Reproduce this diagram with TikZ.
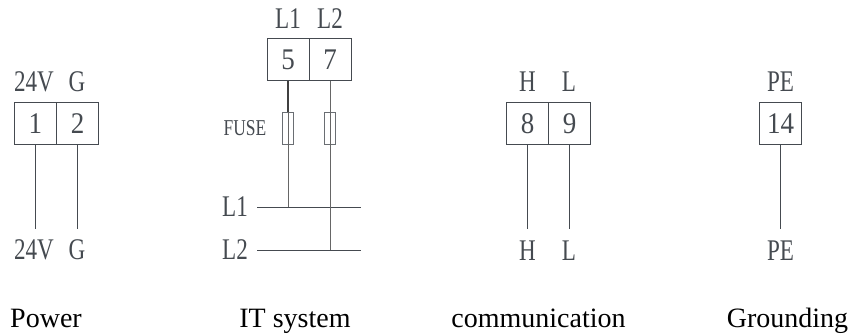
\documentclass[tikz,border=0pt]{standalone}
\usepackage{fontspec}
\setmainfont{Liberation Serif}
\newfontfamily\narrowfont[FakeStretch=0.77]{Liberation Serif}
\newfontfamily\digitfont[FakeStretch=0.9]{Liberation Serif}
\definecolor{inkgray}{HTML}{454A50}
\begin{document}
\begin{tikzpicture}
[
x=0.75pt,
y=-0.75pt,
inner sep=0pt,
cell/.style={rectangle, draw=inkgray, line width=0.75pt, minimum width=31.5pt, minimum height=31.5pt, text=inkgray, font=\digitfont\fontsize{22.5}{24}\selectfont},
fuse/.style={rectangle, draw=inkgray!80, line width=0.6pt, minimum width=8pt, minimum height=24pt},
pin/.style={text=inkgray, font=\narrowfont\fontsize{22.5}{24}\selectfont},
tag/.style={text=inkgray, font=\narrowfont\fontsize{17}{18}\selectfont},
caption/.style={anchor=base, text=black, font=\fontsize{21}{24}\selectfont},
wire/.style={draw=inkgray, line width=0.75pt},
feed/.style={draw=black!60, line width=0.75pt},
],
%
\useasboundingbox (0,0) rectangle (851,336);

% Power
\node [cell]  (P1)   at ( 35.5,123.5)  {1};
\node [cell]  (P2)   at ( 77.5,123.5)  {2};
\node [pin]   (P1t)  at ( 34,  82)     {24V};
\node [pin]   (P2t)  at ( 77,  82)     {G};
\node [pin]   (P1b)  at ( 34, 250)     {24V};
\node [pin]   (P2b)  at ( 77, 250)     {G};
\coordinate   (P1e)  at ( 35.5,228.5);
\coordinate   (P2e)  at ( 77.5,228.5);
%
\draw [wire]  (P1.south) -- (P1e) ;
\draw [wire]  (P2.south) -- (P2e) ;

% IT system
\node [cell]  (T5)   at (288,  59.5)   {5};
\node [cell]  (T7)   at (330,  59.5)   {7};
\node [pin]   (T5t)  at (288,  19)     {L1};
\node [pin]   (T7t)  at (330,  19)     {L2};
\node [fuse]  (F1)   at (288, 128)     {};
\node [fuse]  (F2)   at (330, 128)     {};
\node [tag]   (F1l)  at (245, 128)     {FUSE};
\node [pin]   (B1l)  at (235, 207)     {L1};
\node [pin]   (B2l)  at (235, 250)     {L2};
\coordinate   (B1w)  at (257, 207);
\coordinate   (B1e)  at (361, 207);
\coordinate   (B2w)  at (257, 250);
\coordinate   (B2e)  at (361, 250);
\coordinate   (J1)   at (288, 207);
\coordinate   (J2)   at (330, 250);
%
\draw [wire]  (B1w) -- (B1e) ;
\draw [wire]  (B2w) -- (B2e) ;
\draw [draw=black!75, line width=0.9pt]  (T5.south) -- (F1.north) ;
\draw [feed]  (F1.north) -- (J1) ;
\draw [feed]  (T7.south) -- (J2) ;

% communication
\node [cell]  (C8)   at (527.5,123.5)  {8};
\node [cell]  (C9)   at (569.5,123.5)  {9};
\node [pin]   (C8t)  at (527.5, 82)    {H};
\node [pin]   (C9t)  at (569,   82)    {L};
\node [pin]   (C8b)  at (527.5,251)    {H};
\node [pin]   (C9b)  at (569,  251)    {L};
\coordinate   (C8e)  at (527.5,228.5);
\coordinate   (C9e)  at (569.5,228.5);
%
\draw [wire]  (C8.south) -- (C8e) ;
\draw [wire]  (C9.south) -- (C9e) ;

% Grounding
\node [cell]  (G14)  at (780.5,123.5)  {14};
\node [pin]   (G14t) at (780.5, 82)    {PE};
\node [pin]   (G14b) at (780.5,251)    {PE};
\coordinate   (G14e) at (780.5,228.5);
%
\draw [wire]  (G14.south) -- (G14e) ;

% captions
\node [caption] (cap1) at ( 46,327) {Power};
\node [caption] (cap2) at (295,327) {IT system};
\node [caption] (cap3) at (538.5,327) {communication};
\node [caption] (cap4) at (787.5,327) {Grounding};
%
\end{tikzpicture}
\end{document}
